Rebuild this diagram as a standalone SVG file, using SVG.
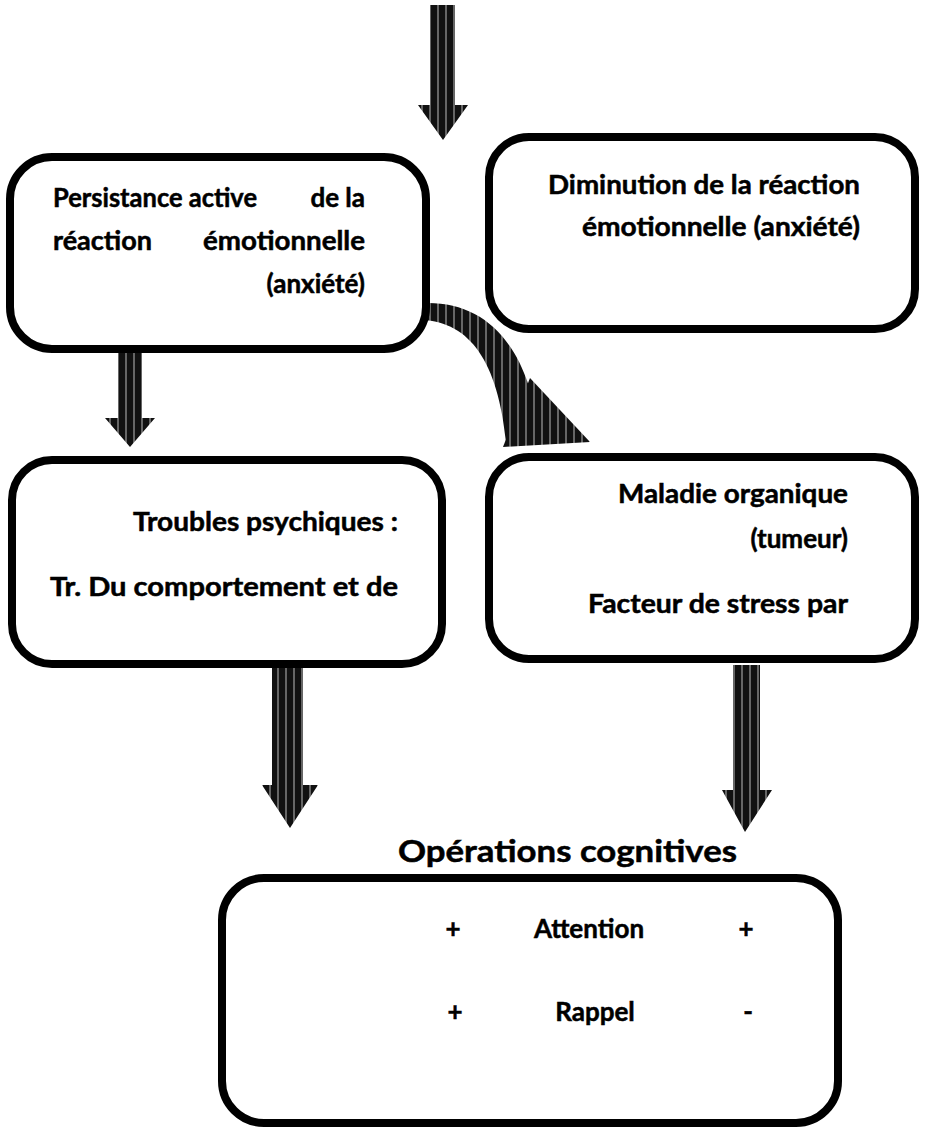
<svg xmlns="http://www.w3.org/2000/svg" width="933" height="1130" viewBox="0 0 933 1130">
<style>
.box{fill:#fff;stroke:#000;stroke-width:8}
.t{font-family:Lato,"Open Sans","Liberation Sans",sans-serif;font-weight:bold;font-size:26px;fill:#000;stroke:#000;stroke-width:0.5}
.h{font-family:Lato,"Open Sans","Liberation Sans",sans-serif;font-weight:bold;font-size:31px;fill:#000;stroke:#000;stroke-width:0.5}
.arr{fill:url(#stripes)}
</style>
<defs>
<pattern id="stripes" width="8" height="8" patternUnits="userSpaceOnUse">
<rect width="8" height="8" fill="#111"/>
<rect x="5" width="2" height="8" fill="#666"/>
</pattern>
</defs>
<rect width="933" height="1130" fill="#fff"/>
<g id="connectors">
<path class="arr" d="M430 5 H455 V105 H468 L443 140 L418 105 H430 Z"/>
<path class="arr" d="M118 345 H142 V418 H155 L130 447 L105 418 H118 Z"/>
<path class="arr" d="M422 320 C470 322 498 362 506 442 L540 440 C530 350 490 303 428 303 Z"/>
<path class="arr" d="M503 447 L530 378 L590 442 Z"/>
<path class="arr" d="M272 665 H303 V785 H318 L290 828 L262 785 H272 Z"/>
<path class="arr" d="M733 665 H760 V790 H772 L745 832 L722 790 H733 Z"/>
</g>
<g id="node1">
<rect class="box" x="10" y="157" width="416" height="192" rx="42"/>
<text class="t" x="53" y="207" textLength="204" lengthAdjust="spacingAndGlyphs">Persistance active</text>
<text class="t" x="365" y="207" text-anchor="end">de la</text>
<text class="t" x="53" y="250" textLength="99" lengthAdjust="spacingAndGlyphs">réaction</text>
<text class="t" x="203" y="250" textLength="162" lengthAdjust="spacingAndGlyphs">émotionnelle</text>
<text class="t" x="365" y="293" text-anchor="end">(anxiété)</text>
</g>
<g id="node2">
<rect class="box" x="489" y="137" width="426" height="192" rx="40"/>
<text class="t" x="548" y="194" textLength="312" lengthAdjust="spacingAndGlyphs">Diminution de la réaction</text>
<text class="t" x="582" y="236" textLength="278" lengthAdjust="spacingAndGlyphs">émotionnelle (anxiété)</text>
</g>
<g id="node3">
<rect class="box" x="12" y="460" width="430" height="204" rx="40"/>
<text class="t" x="133" y="531" textLength="265" lengthAdjust="spacingAndGlyphs">Troubles psychiques :</text>
<text class="t" x="50" y="596" textLength="348" lengthAdjust="spacingAndGlyphs">Tr. Du comportement et de</text>
</g>
<g id="node4">
<rect class="box" x="489" y="457" width="426" height="202" rx="40"/>
<text class="t" x="618" y="503" textLength="230" lengthAdjust="spacingAndGlyphs">Maladie organique</text>
<text class="t" x="848" y="548" text-anchor="end">(tumeur)</text>
<text class="t" x="588" y="613" textLength="260" lengthAdjust="spacingAndGlyphs">Facteur de stress par</text>
</g>
<g id="node5">
<text class="h" x="398" y="862" textLength="339" lengthAdjust="spacingAndGlyphs">Opérations cognitives</text>
<rect class="box" x="222" y="878" width="616" height="245" rx="42"/>
<text class="t" x="453" y="938" text-anchor="middle">+</text>
<text class="t" x="589" y="938" text-anchor="middle">Attention</text>
<text class="t" x="746" y="938" text-anchor="middle">+</text>
<text class="t" x="455" y="1021" text-anchor="middle">+</text>
<text class="t" x="595" y="1021" text-anchor="middle">Rappel</text>
<text class="t" x="748" y="1021" text-anchor="middle">-</text>
</g>
</svg>
